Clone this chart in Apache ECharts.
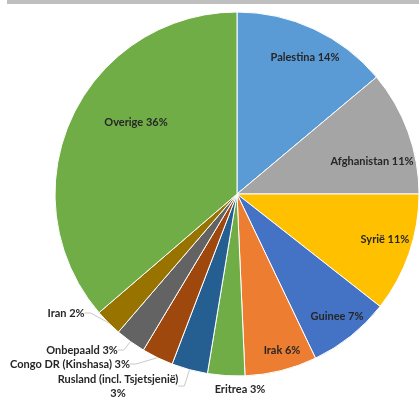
<!DOCTYPE html>
<html><head><meta charset="utf-8">
<script src="https://cdn.jsdelivr.net/npm/echarts@6/dist/echarts.min.js"></script>
<style>html,body{margin:0;padding:0;background:#fff}#c{width:419px;height:406px}</style>
</head><body><div id="c"></div>
<script>
const categories = ['Palestina','Afghanistan','Syrië','Guinee','Irak','Eritrea','Rusland (incl. Tsjetsjenië)','Congo DR (Kinshasa)','Onbepaald','Iran','Overige'];
const values = [13.9, 11.1, 10.6, 7.3, 6.4, 3.3, 3.2, 2.8, 2.7, 2.4, 36.3];
const colors = ['#5b9bd5','#a5a5a5','#ffc000','#4472c4','#ed7d31','#70ad47','#255e91','#9e480e','#636363','#997300','#70ad47'];
const insideLabels = ['Palestina','Afghanistan','Syrië','Guinee','Irak','Overige'];
// label anchor positions (text centres) as placed in the reference
const labelPos = {
  'Palestina': [305, 57], 'Afghanistan': [372, 161], 'Syrië': [385, 239], 'Guinee': [337, 316],
  'Irak': [282, 350], 'Overige': [136, 122], 'Eritrea': [240, 389],
  'Rusland (incl. Tsjetsjenië)': [118, 386], 'Congo DR (Kinshasa)': [70, 364],
  'Onbepaald': [82, 350], 'Iran': [66, 313]
};

const R = 182, C = [237, 194];
const font = {fontFamily: 'Lato', fontWeight: 'bold', fontSize: 11, color: '#262626'};
const fmt = p => p.name === 'Rusland (incl. Tsjetsjenië)' ? p.name + '\n' + Math.round(p.percent) + '%' : p.name + ' ' + Math.round(p.percent) + '%';

const mainData = categories.map((n, i) => {
  const inside = insideLabels.indexOf(n) >= 0;
  return {
    name: n, value: values[i],
    itemStyle: {color: colors[i]},
    label: {position: inside ? 'inside' : 'outside'},
    labelLine: {show: !inside && n !== 'Eritrea'}
  };
});

const chart = echarts.init(document.getElementById('c'), null, {renderer: 'canvas'});
chart.setOption({
  animation: false,
  graphic: [{type: 'rect', shape: {x: 7, y: 0, width: 412, height: 4}, style: {fill: '#bfbfbf'}}],
  series: [{
    type: 'pie', clockwise: true, startAngle: 90, center: C, radius: [0, R],
    silent: true,
    itemStyle: {borderColor: '#fff', borderWidth: 1},
    label: Object.assign({formatter: fmt, lineHeight: 14, align: 'center', overflow: 'none'}, font),
    labelLine: {length: 6, length2: 6, lineStyle: {color: '#c8c8c8', width: 1}},
    labelLayout: function (p) {
      const n = categories[p.dataIndex];
      const pos = labelPos[n];
      return {x: pos[0], y: pos[1], align: 'center', verticalAlign: 'middle'};
    },
    data: mainData
  }]
});
</script></body></html>
